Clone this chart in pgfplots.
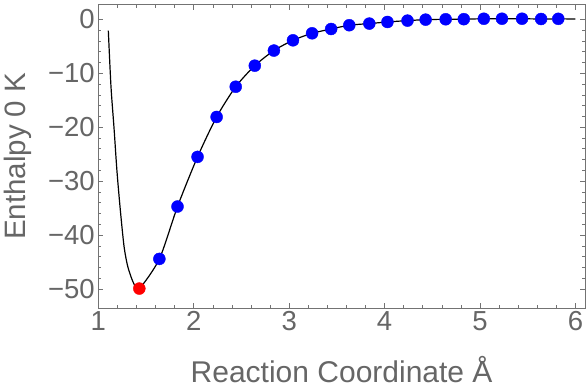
\documentclass[border=0pt]{standalone}
\usepackage{fontspec}
\setmainfont{Liberation Sans}
\usepackage{pgfplots}
\pgfplotsset{compat=1.18}
\definecolor{txtgray}{gray}{0.4}
\definecolor{framegray}{gray}{0.45}
\begin{document}
\begin{tikzpicture}
\useasboundingbox (-98.3pt,-80pt) rectangle (487.7pt,308pt);
\begin{axis}[
 at={(0,0)}, anchor=south west,
 scale only axis, width=486.7pt, height=303.3pt,
 xmin=1, xmax=6.1, ymin=-53.5, ymax=2.7,
 xtick={1,2,3,4,5,6}, minor x tick num=4,
 ytick={-50,-40,-30,-20,-10,0}, yticklabels={−50,−40,−30,−20,−10,0}, minor y tick num=4,
 tick align=inside, major tick length=5pt, minor tick length=3pt,
 xtick pos=both, ytick pos=both, xticklabel pos=left, yticklabel pos=left,
 axis line style={framegray, line width=0.8pt},
 every tick/.style={framegray, line width=0.6pt},
 tick label style={txtgray, font=\fontsize{27.5}{32}\selectfont},
 /pgf/number format/assume math mode=true,
 xlabel={Reaction Coordinate Å},
 ylabel={Enthalpy 0 K},
 every axis x label/.style={at={([yshift=-62pt]axis description cs:0.5,0)}, anchor=center, text=txtgray, font=\fontsize{30}{34}\selectfont},
 every axis y label/.style={at={([xshift=-80.5pt]axis description cs:0,0.5)}, anchor=center, rotate=90, text=txtgray, font=\fontsize{29.5}{34}\selectfont},
]
\addplot[black, line width=1.2pt, smooth, tension=0.45] coordinates {
(1.105,-2.1) (1.133,-12.5) (1.165,-20.2) (1.195,-28.0) (1.23,-35.2) (1.27,-42.1) (1.31,-45.9) (1.37,-48.9) (1.43,-49.9)
(1.64,-44.4) (1.83,-34.7) (2.04,-25.5) (2.24,-18.1) (2.44,-12.5) (2.64,-8.6) (2.84,-5.8)
(3.04,-3.9) (3.24,-2.6) (3.44,-1.8) (3.63,-1.1) (3.84,-0.8) (4.03,-0.5) (4.24,-0.25) (4.43,-0.07)
(4.64,0.0) (4.83,0.02) (5.04,0.1) (5.23,0.1) (5.44,0.1) (5.64,0.05) (5.82,0.08) (6.0,0.05)
};
\addplot[only marks, mark=*, mark size=6pt, mark options={draw=blue, fill=blue}] coordinates {
(1.64,-44.4) (1.83,-34.7) (2.04,-25.5) (2.24,-18.1) (2.44,-12.5) (2.64,-8.6) (2.84,-5.8)
(3.04,-3.9) (3.24,-2.6) (3.44,-1.8) (3.63,-1.1) (3.84,-0.8) (4.03,-0.5) (4.24,-0.25) (4.43,-0.07)
(4.64,0.0) (4.83,0.02) (5.04,0.1) (5.23,0.1) (5.44,0.1) (5.64,0.05) (5.82,0.08)
};
\addplot[only marks, mark=*, mark size=6pt, mark options={draw=red, fill=red}] coordinates {(1.43,-49.9)};
\end{axis}
\end{tikzpicture}
\end{document}
